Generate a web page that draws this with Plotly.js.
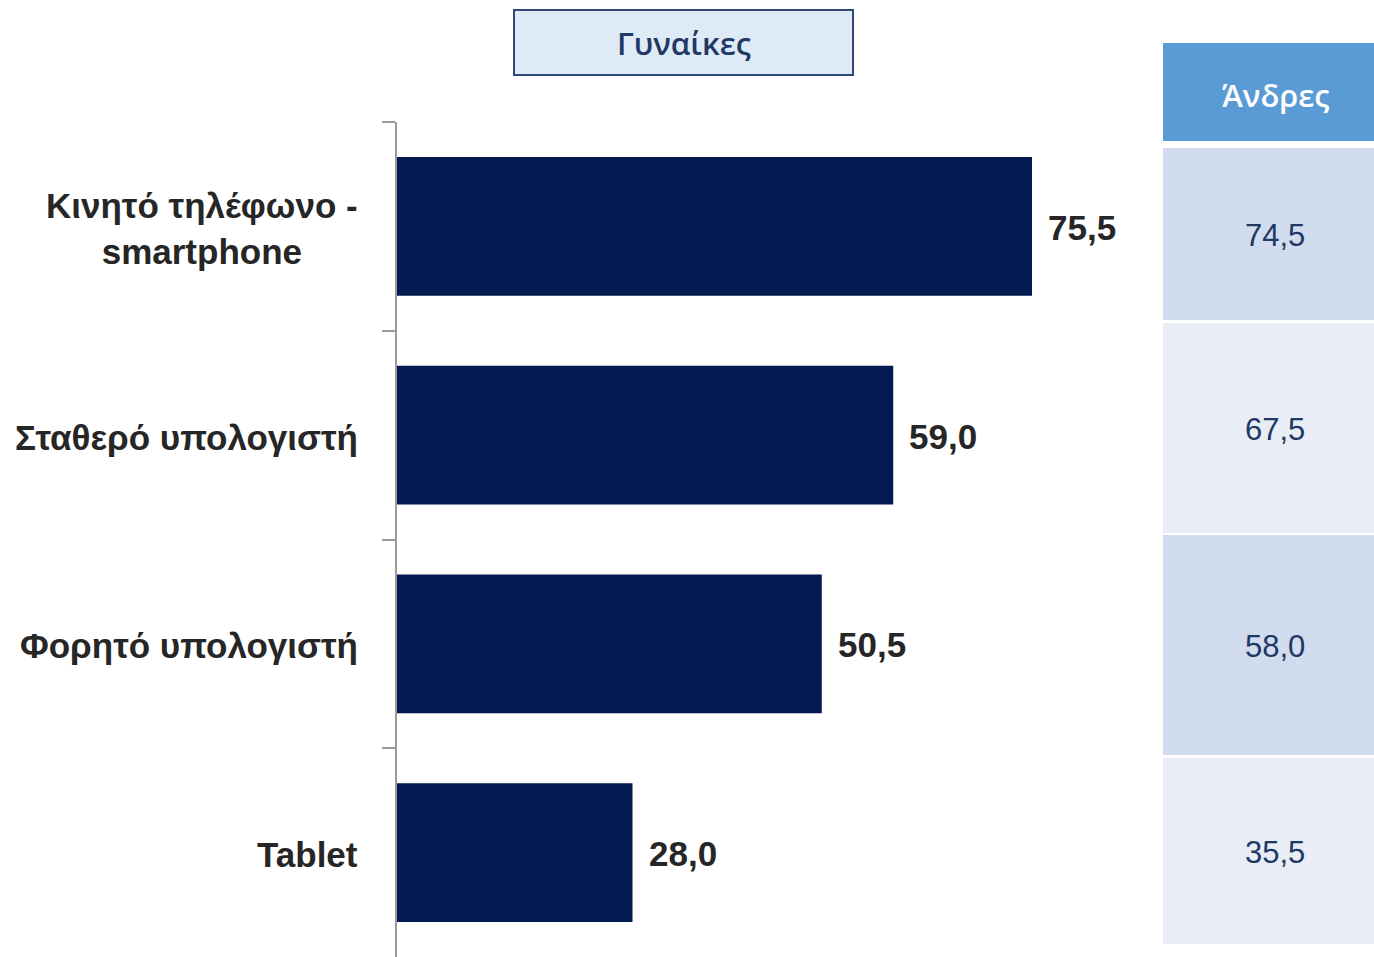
<!DOCTYPE html>
<html>
<head>
<meta charset="utf-8">
<script src="https://cdn.plot.ly/plotly-3.0.1.min.js"></script>
<style>html,body{margin:0;padding:0;background:#fff;}#chart{width:1374px;height:957px;}</style>
</head>
<body>
<div id="chart"></div>
<script>
// ---- data ----
const categories = ["Κινητό τηλέφωνο -<br>smartphone", "Σταθερό υπολογιστή", "Φορητό υπολογιστή", "Tablet"];
const women = [75.5, 59.0, 50.5, 28.0];
const men = [74.5, 67.5, 58.0, 35.5];
const womenTitle = "Γυναίκες";
const menTitle = "Άνδρες";

// ---- layout constants (pixels) ----
const W = 1374, H = 957;
const px = x => x / W;
const py = y => 1 - y / H;
const cellRows = [[148, 320], [323, 533], [535, 755], [758, 944]];
const cellColors = ["#D1DCEE", "#E8EDF6", "#D1DCEE", "#E8EDF6"];
const sans = "'Liberation Sans', Arial, sans-serif";
const fmt = v => v.toFixed(1).replace('.', ',');

const shapes = [];
const annotations = [];

// women title box
shapes.push({type: 'rect', xref: 'paper', yref: 'paper', x0: px(514), x1: px(853), y0: py(75), y1: py(10),
  fillcolor: '#DEEAF6', line: {color: '#2F4A7A', width: 2}, layer: 'above'});
annotations.push({xref: 'paper', yref: 'paper', x: px(684), y: py(43), text: womenTitle, showarrow: false,
  font: {family: "'Open Sans', 'Noto Sans', sans-serif", size: 31, color: '#1F3864', weight: 600}, xanchor: 'center', yanchor: 'middle'});

// men header
shapes.push({type: 'rect', xref: 'paper', yref: 'paper', x0: px(1163), x1: px(1374), y0: py(141), y1: py(43),
  fillcolor: '#5B9BD5', line: {width: 0}});
annotations.push({xref: 'paper', yref: 'paper', x: px(1275), y: py(95), text: menTitle, showarrow: false,
  font: {family: "'Open Sans', 'Noto Sans', sans-serif", size: 31, color: '#FFFFFF', weight: 600}, xanchor: 'center', yanchor: 'middle'});

// men cells
men.forEach((v, i) => {
  const [t, b] = cellRows[i];
  shapes.push({type: 'rect', xref: 'paper', yref: 'paper', x0: px(1163), x1: px(1374), y0: py(b), y1: py(t),
    fillcolor: cellColors[i], line: {width: 0}});
  annotations.push({xref: 'paper', yref: 'paper', x: px(1275), y: py((t + b) / 2 + 1), text: fmt(v), showarrow: false,
    font: {family: sans, size: 31, color: '#1F3864'}, xanchor: 'center', yanchor: 'middle'});
});

// bar value labels
women.forEach((v, i) => {
  annotations.push({xref: 'x', yref: 'y', x: v, y: categories[i], text: fmt(v), showarrow: false,
    xanchor: 'left', yanchor: 'middle', xshift: 14, yshift: -1,
    font: {family: sans, size: 35, color: '#262626', weight: 'bold'}});
});

// category labels (centre-aligned, right edge near the axis)
categories.forEach((c, i) => {
  annotations.push({xref: 'paper', yref: 'y', x: px(360), y: c, text: c, showarrow: false,
    xanchor: 'right', yanchor: 'middle', align: 'center', yshift: -2,
    font: {family: sans, size: 35, color: '#262626', weight: 'bold'}});
});

const xmax = 90;
const xEndPx = 397 + xmax * (635 / 75.5);

const trace = {
  type: 'bar', orientation: 'h', x: women, y: categories,
  marker: {color: '#021A4F', line: {width: 0}},
  hoverinfo: 'skip'
};

const layout = {
  width: W, height: H,
  margin: {l: 0, r: 0, t: 0, b: 0, pad: 0},
  paper_bgcolor: '#fff', plot_bgcolor: 'rgba(0,0,0,0)',
  showlegend: false,
  bargap: 0.335,
  xaxis: {domain: [px(397), px(xEndPx)], range: [0, xmax], visible: false, fixedrange: true},
  yaxis: {domain: [0, py(122)], autorange: 'reversed', type: 'category',
    showline: true, linecolor: '#9A9A9A', linewidth: 2,
    ticks: 'outside', tickson: 'boundaries', ticklen: 13, tickwidth: 2, tickcolor: '#9A9A9A',
    showgrid: false, zeroline: false, showticklabels: false},
  shapes: shapes,
  annotations: annotations
};

Plotly.newPlot('chart', [trace], layout, {displayModeBar: false, staticPlot: true});
</script>
</body>
</html>
